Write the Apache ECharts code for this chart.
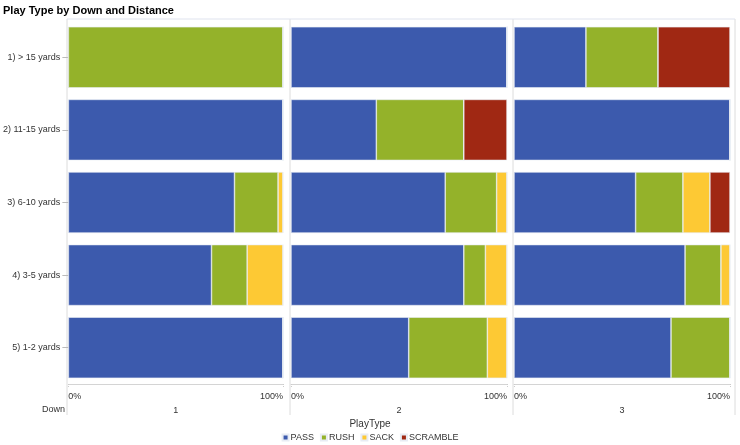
<!DOCTYPE html>
<html>
<head>
<meta charset="utf-8">
<script src="https://cdn.jsdelivr.net/npm/echarts@6/dist/echarts.min.js"></script>
<style>
    html, body { margin: 0; padding: 0; background: #fff; }
    #chart { width: 740px; height: 445px; }
</style>
</head>
<body>
<div id="chart"></div>
<script>
// categories (top to bottom) and panels
var distances = ['1) > 15 yards', '2) 11-15 yards', '3) 6-10 yards', '4) 3-5 yards', '5) 1-2 yards'];
var downs = ['1', '2', '3'];
var playTypes = ['PASS', 'RUSH', 'SACK', 'SCRAMBLE'];
var xTicks = ['0%', '100%'];

// percent of plays, one array per down, per play type (rows follow distances)
var down1Pass     = [0, 100, 77.4, 66.7, 100];
var down1Rush     = [100, 0, 20.3, 16.6, 0];
var down1Sack     = [0, 0, 2.3, 16.7, 0];
var down1Scramble = [0, 0, 0, 0, 0];

var down2Pass     = [100, 39.5, 71.4, 80, 54.5];
var down2Rush     = [0, 40.5, 23.8, 10, 36.4];
var down2Sack     = [0, 0, 4.8, 10, 9.1];
var down2Scramble = [0, 20, 0, 0, 0];

var down3Pass     = [33.3, 100, 56.3, 79.2, 72.7];
var down3Rush     = [33.4, 0, 21.9, 16.6, 27.3];
var down3Sack     = [0, 0, 12.5, 4.2, 0];
var down3Scramble = [33.3, 0, 9.3, 0, 0];

var panelData = [
    [down1Pass, down1Rush, down1Sack, down1Scramble],
    [down2Pass, down2Rush, down2Sack, down2Scramble],
    [down3Pass, down3Rush, down3Sack, down3Scramble]
];

var colors = ['#3C5AAD', '#94B22A', '#FDC934', '#A02813'];
var panelLeft = [67, 291, 514];
var panelWidth = 216;
var font = 'Arial, "Liberation Sans", sans-serif';

var chart = echarts.init(document.getElementById('chart'));

var grids = [], xAxes = [], yAxes = [], series = [];
$each = function (arr, fn) { for (var i = 0; i < arr.length; i++) fn(i, arr[i]); };

$each(downs, function (p, down) {
    grids.push({ left: panelLeft[p], width: panelWidth, top: 21, bottom: 61 });
    xAxes.push({
        gridIndex: p,
        type: 'value',
        min: 0,
        max: 100,
        interval: 100,
        name: down,
        nameLocation: 'middle',
        nameGap: 22,
        nameTextStyle: { color: '#333', fontSize: 9, fontFamily: font },
        splitLine: { show: false },
        axisLine: { show: true, lineStyle: { color: '#d4d4d4', width: 1 } },
        axisTick: { show: true, length: 4, lineStyle: { color: '#ccc', type: 'dotted' } },
        axisLabel: {
            color: '#333', fontSize: 9, fontFamily: font, margin: 8,
            alignMinLabel: 'left', alignMaxLabel: 'right',
            formatter: function (v) { return v === 0 ? xTicks[0] : xTicks[1]; }
        }
    });
    yAxes.push({
        gridIndex: p,
        type: 'category',
        inverse: true,
        data: distances,
        axisLine: { show: false },
        axisTick: { show: p === 0, length: 6, alignWithLabel: true, lineStyle: { color: '#bbb' } },
        axisLabel: { show: p === 0, color: '#333', fontSize: 9, fontFamily: font, margin: 8 }
    });
    $each(playTypes, function (k, type) {
        series.push({
            name: type,
            type: 'bar',
            stack: 'down' + down,
            xAxisIndex: p,
            yAxisIndex: p,
            barWidth: '84%',
            itemStyle: { color: colors[k], borderColor: '#e8ecf4', borderWidth: 0.6 },
            emphasis: { disabled: true },
            data: panelData[p][k]
        });
    });
});

// panel dividers and top frame
var lines = [];
$each([67, 290, 513, 735], function (i, x) {
    lines.push({ type: 'line', shape: { x1: x, y1: 19, x2: x, y2: 415 }, style: { stroke: '#dcdcdc', lineWidth: 1 }, silent: true });
});
lines.push({ type: 'line', shape: { x1: 67, y1: 19, x2: 735, y2: 19 }, style: { stroke: '#dfe3ee', lineWidth: 1 }, silent: true });
lines.push({ type: 'text', right: 740 - 65, top: 405, style: { text: 'Down', fill: '#333', fontSize: 9, fontFamily: font, textAlign: 'right' } });

chart.setOption({
    animation: false,
    color: colors,
    title: {
        text: 'Play Type by Down and Distance',
        left: 3,
        top: 5,
        padding: 0,
        textStyle: { fontSize: 11, fontWeight: 'bold', color: '#000', fontFamily: font }
    },
    legend: {
        data: playTypes,
        bottom: -2,
        left: 'center',
        itemWidth: 6,
        itemHeight: 6,
        itemGap: 6,
        icon: 'rect',
        textStyle: { color: '#333', fontSize: 9, fontFamily: font, padding: [0, 0, 0, -3] },
        selectedMode: false
    },
    graphic: lines.concat([
        { type: 'text', left: 'center', top: 419, style: { text: 'PlayType', fill: '#333', fontSize: 10, fontFamily: font } }
    ]),
    grid: grids,
    xAxis: xAxes,
    yAxis: yAxes,
    series: series
});
</script>
</body>
</html>
